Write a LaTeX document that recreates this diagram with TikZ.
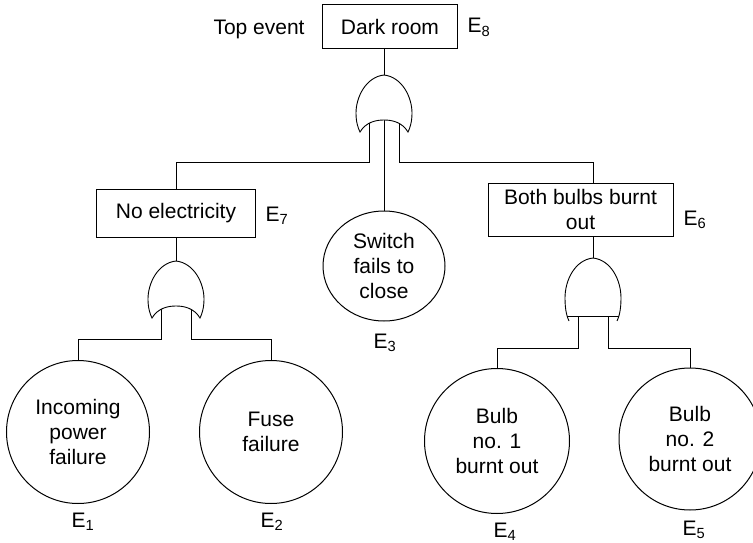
\documentclass[tikz,border=0pt]{standalone}
\usepackage{fontspec}
\setmainfont{Liberation Sans}
\usetikzlibrary{shapes.geometric, calc, backgrounds}
\newcommand{\evlabel}[1]{E\textsubscript{#1}}

\tikzset{
  pics/orgate/.style={code={
    \draw[fill=white, line width=0.9pt] (-24,57) .. controls (-26,53) and (-28,47) .. (-28,38)
      .. controls (-28,22) and (-18,2) .. (0,0)
      .. controls (18,2) and (28,22) .. (28,38)
      .. controls (28,47) and (26,53) .. (24,57)
      .. controls (18,47) and (8,45) .. (0,45)
      .. controls (-8,45) and (-18,47) .. cycle;
    \coordinate (-tip) at (0,0);
    \coordinate (-in1) at (-15,45);
    \coordinate (-in2) at (0,45);
    \coordinate (-in3) at (15,45);
  }},
  pics/andgate/.style={code={
    \draw[line width=0.9pt] (-24,63) .. controls (-26,59) and (-28,52) .. (-28,40)
      .. controls (-28,22) and (-18,2) .. (0,0)
      .. controls (18,2) and (28,22) .. (28,40)
      .. controls (28,52) and (26,59) .. (24,63);
    \draw[line width=0.9pt] (-26,58) -- (26,58);
    \coordinate (-tip) at (0,0);
    \coordinate (-in1) at (-15,58);
    \coordinate (-in3) at (15,58);
  }}
}

\begin{document}
\begin{tikzpicture}[x=1pt, y=-1pt, line width=1.1pt,
    every node/.style={font=\fontsize{21}{25}\selectfont},
    eventbox/.style={draw, rectangle, line width=1pt, align=center, inner sep=0pt},
    basicev/.style={draw, circle, line width=1pt, align=center, inner sep=0pt},
    elabel/.style={anchor=base west, inner sep=0pt}]
  \useasboundingbox (0,0) rectangle (753,543);

  % events
  \node[eventbox, minimum width=135pt, minimum height=44pt] (dark) at (390,27) {Dark room};
  \node[anchor=base west, inner sep=0pt] (toplbl) at (213,35) {Top event};
  \node[elabel] (e8) at (467,33) {\evlabel{8}};

  \node[eventbox, minimum width=159pt, minimum height=48pt] (noelec) at (176,213) {No electricity};
  \node[elabel] (e7) at (265,221) {\evlabel{7}};

  \node[eventbox, minimum width=185pt, minimum height=53pt] (bulbs) at (580.5,209.5) {Both bulbs burnt\\out};
  \node[elabel] (e6) at (683,225) {\evlabel{6}};

  \node[draw, ellipse, line width=1pt, align=center, inner sep=0pt,
        minimum width=122pt, minimum height=110pt] (switch) at (384,266) {Switch\\fails to\\close};
  \node[elabel] (e3) at (373,348) {\evlabel{3}};

  \node[basicev, minimum size=143pt] (inc) at (78,432) {Incoming\\power\\failure};
  \node[elabel] (e1) at (71,527) {\evlabel{1}};
  \node[basicev, minimum size=143pt] (fuse) at (271,432) {Fuse\\failure};
  \node[elabel] (e2) at (260,527) {\evlabel{2}};

  \node[basicev, minimum size=145pt] (bulb1) at (497,441) {Bulb\\no. 1\\burnt out};
  \node[elabel] (e4) at (493,537) {\evlabel{4}};
  \node[basicev, minimum size=142pt] (bulb2) at (690,439) {Bulb\\no. 2\\burnt out};
  \node[elabel] (e5) at (682,535) {\evlabel{5}};

  % gates
  \pic (g1) at (384,75) {orgate};
  \pic (g2) at (176,261) {orgate};
  \pic (g3) at (593,258) {andgate};

  \coordinate (bus1) at (0,162);
  \coordinate (bus2) at (0,339);
  \coordinate (bus3) at (0,348);

  % connectors
  \begin{scope}[on background layer]
    \draw (g1-tip) -- (g1-tip |- dark.south);
    \draw (g1-in1) |- (bus1 -| noelec.north) -- (noelec.north);
    \draw (g1-in2) -- (switch.north);
    \draw (g1-in3) |- (bus1 -| g3-tip) -- (g3-tip |- bulbs.north);
    \draw (noelec.south) -- (g2-tip);
    \draw (g3-tip |- bulbs.south) -- (g3-tip);
    \draw (g2-in1) |- (bus2 -| inc.north) -- (inc.north);
    \draw (g2-in3) |- (bus2 -| fuse.north) -- (fuse.north);
    \draw (g3-in1) |- (bus3 -| bulb1.north) -- (bulb1.north);
    \draw (g3-in3) |- (bus3 -| bulb2.north) -- (bulb2.north);
  \end{scope}
\end{tikzpicture}
\end{document}
